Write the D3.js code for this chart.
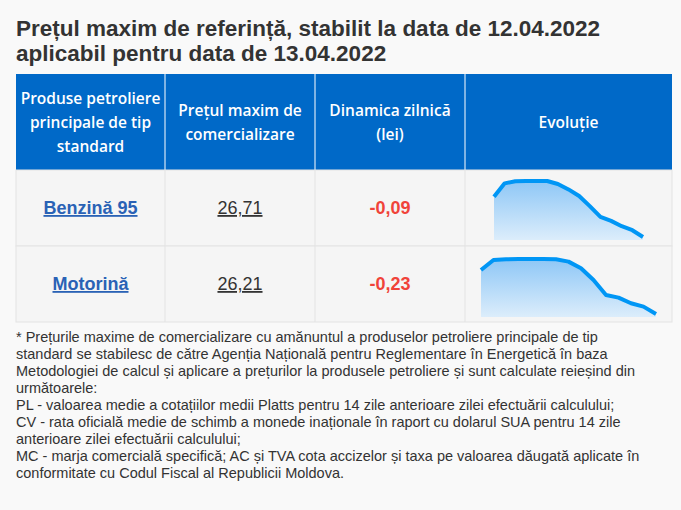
<!DOCTYPE html>
<html><head><meta charset="utf-8">
<script src="https://cdn.jsdelivr.net/npm/d3@7"></script>
<style>body{margin:0;background:#f9f9f9;}svg{display:block;}</style>
</head><body>
<svg id="c" width="681" height="510"></svg>
<script>
// date ale tabelului
var products = ['Benzină 95', 'Motorină'];
var prices = ['26,71', '26,21'];
var changes = ['-0,09', '-0,23'];
var headers = [['Produse petroliere', 'principale de tip', 'standard'], ['Prețul maxim de', 'comercializare'], ['Dinamica zilnică', '(lei)'], ['Evoluție']];
// evolutia pretului, ultimele 15 zile
var benzinaSeries = [29.43, 30.34, 30.48, 30.50, 30.50, 30.50, 30.30, 29.93, 29.48, 28.80, 28.07, 27.80, 27.44, 27.17, 26.71];
var motorinaSeries = [29.24, 29.93, 29.98, 30.00, 30.00, 30.00, 29.98, 29.82, 29.36, 28.55, 27.52, 27.34, 26.95, 26.72, 26.21];
var footnote = [
	'* Prețurile maxime de comercializare cu amănuntul a produselor petroliere principale de tip',
	'standard se stabilesc de către Agenția Națională pentru Reglementare în Energetică în baza',
	'Metodologiei de calcul și aplicare a prețurilor la produsele petroliere și sunt calculate reieșind din',
	'următoarele:',
	'PL - valoarea medie a cotațiilor medii Platts pentru 14 zile anterioare zilei efectuării calculului;',
	'CV - rata oficială medie de schimb a monede inaționale în raport cu dolarul SUA pentru 14 zile',
	'anterioare zilei efectuării calculului;',
	'MC - marja comercială specifică; AC și TVA cota accizelor și taxa pe valoarea dăugată aplicate în',
	'conformitate cu Codul Fiscal al Republicii Moldova.'
];

var svg = d3.select('#c');
var cols = [16, 165, 315, 465, 672];
var headTop = 74, headH = 96, rowH = 76;

svg.append('text').attr('x', 16).attr('y', 36)
	.style('font', 'bold 22.5px "Liberation Sans", Arial, sans-serif').attr('fill', '#333')
	.text('Prețul maxim de referință, stabilit la data de 12.04.2022');
svg.append('text').attr('x', 16).attr('y', 61)
	.style('font', 'bold 22.5px "Liberation Sans", Arial, sans-serif').attr('fill', '#333')
	.text('aplicabil pentru data de 13.04.2022');

// antet
svg.append('rect').attr('x', cols[0]).attr('y', headTop).attr('width', cols[4] - cols[0]).attr('height', headH).attr('fill', '#0069c8');
headers.forEach(function(lines, i) {
	var cx = (cols[i] + cols[i + 1]) / 2;
	if (i > 0) svg.append('line').attr('x1', cols[i]).attr('x2', cols[i]).attr('y1', headTop).attr('y2', headTop + headH).attr('stroke', '#fff').attr('stroke-width', 1);
	var lh = 24, y0 = headTop + headH / 2 - (lines.length - 1) * lh / 2 + 6;
	lines.forEach(function(l, j) {
		svg.append('text').attr('x', cx).attr('y', y0 + j * lh).attr('text-anchor', 'middle')
			.style('font', '600 15.5px "Open Sans", sans-serif').attr('fill', '#fff').text(l);
	});
});

var series = [benzinaSeries, motorinaSeries];
var sparkX = [[494, 643], [481, 656]];
var sparkPad = [[11, 9], [13, 8]];

var defs = svg.append('defs');
var grad = defs.append('linearGradient').attr('id', 'g').attr('x1', 0).attr('x2', 0).attr('y1', 0).attr('y2', 1);
grad.append('stop').attr('offset', '0%').attr('stop-color', '#8ec7f6');
grad.append('stop').attr('offset', '100%').attr('stop-color', '#dcedfb');

products.forEach(function(p, r) {
	var top = headTop + headH + r * rowH;
	svg.append('rect').attr('x', cols[0]).attr('y', top).attr('width', cols[4] - cols[0]).attr('height', rowH)
		.attr('fill', '#f5f5f5').attr('stroke', '#e3e3e3');
	for (var i = 1; i < 4; i++) {
		svg.append('line').attr('x1', cols[i]).attr('x2', cols[i]).attr('y1', top).attr('y2', top + rowH).attr('stroke', '#e3e3e3');
	}
	var cy = top + rowH / 2 + 6;
	svg.append('text').attr('x', (cols[0] + cols[1]) / 2).attr('y', cy).attr('text-anchor', 'middle')
		.style('font', 'bold 18px "Liberation Sans", Arial, sans-serif').attr('fill', '#2a62b5')
		.attr('text-decoration', 'underline').text(p);
	svg.append('text').attr('x', (cols[1] + cols[2]) / 2).attr('y', cy).attr('text-anchor', 'middle')
		.style('font', '18px "Liberation Sans", Arial, sans-serif').attr('fill', '#333')
		.attr('text-decoration', 'underline').text(prices[r]);
	svg.append('text').attr('x', (cols[2] + cols[3]) / 2).attr('y', cy).attr('text-anchor', 'middle')
		.style('font', 'bold 18px "Liberation Sans", Arial, sans-serif').attr('fill', '#f0433a').text(changes[r]);

	var vals = series[r];
	var x = d3.scaleLinear().domain([0, vals.length - 1]).range(sparkX[r]);
	var y = d3.scaleLinear().domain([d3.min(vals), d3.max(vals)]).range([top + rowH - sparkPad[r][1], top + sparkPad[r][0]]);
	var base = top + rowH - sparkPad[r][1] + 3;
	svg.append('path').datum(vals).attr('fill', 'url(#g)')
		.attr('d', d3.area().x(function(d, i) { return x(i); }).y0(base).y1(function(d) { return y(d); }));
	svg.append('path').datum(vals).attr('fill', 'none').attr('stroke', '#0096f5').attr('stroke-width', 4)
		.attr('stroke-linejoin', 'round')
		.attr('d', d3.line().x(function(d, i) { return x(i); }).y(function(d) { return y(d); }));
});

footnote.forEach(function(l, i) {
	svg.append('text').attr('x', 16).attr('y', 342 + i * 17)
		.style('font', '14.5px "Liberation Sans", Arial, sans-serif').attr('fill', '#333').text(l);
});
</script>
</body></html>
